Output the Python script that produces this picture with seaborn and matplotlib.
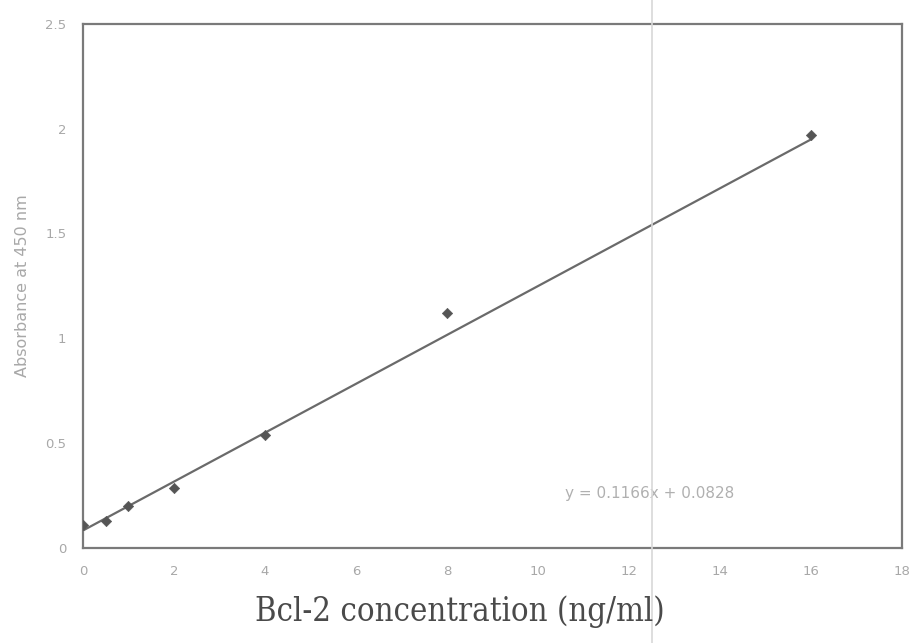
import matplotlib
matplotlib.use("Agg")
import matplotlib.pyplot as plt
import numpy as np
import pandas as pd
import seaborn as sns
from matplotlib.lines import Line2D

# standard curve readings
conc = [0, 0.5, 1, 2, 4, 8, 16]
absorb = [0.108, 0.13, 0.198, 0.285, 0.54, 1.12, 1.97]

# trendline as printed on the chart
slope = 0.1166
intercept = 0.0828
fit_x = [0, 16]

x_ticks = [0, 2, 4, 6, 8, 10, 12, 14, 16, 18]
y_ticks = [0, 0.5, 1, 1.5, 2, 2.5]
y_tick_labels = ["0", "0.5", "1", "1.5", "2", "2.5"]

sns.set_style("white")
plt.rcParams['font.family'] = ['DejaVu Sans']

df = pd.DataFrame({"conc": conc, "abs": absorb})
fit = pd.DataFrame({"x": fit_x, "y": [slope * v + intercept for v in fit_x]})

fig = plt.figure(figsize=(9.11, 6.43), dpi=100)
ax = fig.add_axes([0.0911, 0.148, 0.899, 0.815])

sns.lineplot(data=fit, x="x", y="y", ax=ax, color="#6a6a6a", linewidth=1.6)
sns.scatterplot(data=df, x="conc", y="abs", ax=ax, marker="D", s=28,
                color="#555555", edgecolor="#555555", zorder=3)

ax.set_xlim(0, 18)
ax.set_ylim(0, 2.5)
ax.set_xticks(x_ticks)
ax.set_yticks(y_ticks)
ax.set_yticklabels(y_tick_labels)
ax.tick_params(axis="both", direction="out", length=3, width=1, color="#888888",
               labelsize=9.5, labelcolor="#a8a8a8", pad=9)
for s in ax.spines.values():
    s.set_color("#7a7a7a")
    s.set_linewidth(1.6)

ax.set_xlabel("")
ax.set_ylabel("Absorbance at 450 nm", fontsize=11.5, color="#a8a8a8", labelpad=11)

ax.text(12.45, 0.26, "y = 0.1166x + 0.0828", fontsize=11, color="#b0b0b0",
        ha="center", va="center")

fig.text(0.505, 0.048, "Bcl-2 concentration (ng/ml)", fontsize=23.5,
         family="DejaVu Serif", fontstretch="condensed", color="#4a4a4a",
         ha="center", va="center")

# faint vertical scan streak
fig.add_artist(Line2D([0.716, 0.716], [0, 1], transform=fig.transFigure,
                      color="#d8d8d8", linewidth=1.2))

fig.savefig("out.png", dpi=100)
